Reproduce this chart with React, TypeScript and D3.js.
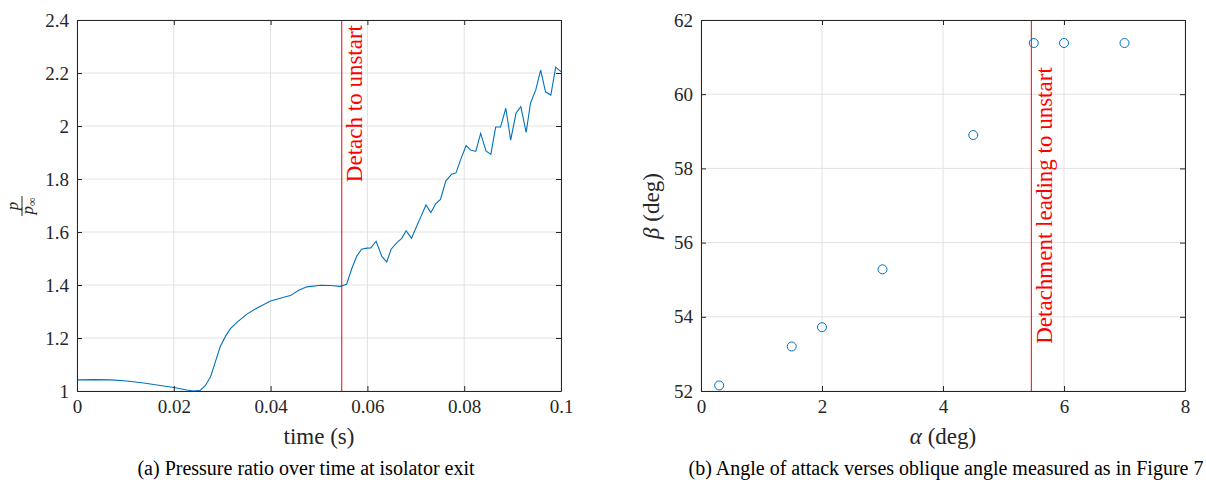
import React, { useRef, useEffect } from 'react';
import * as d3 from 'd3';

// (a) pressure ratio at isolator exit
const timeS = [
  0, 0.0035, 0.0069, 0.0103, 0.0138, 0.0172, 0.02, 0.0227, 0.0241, 0.0255,
  0.0265, 0.0276, 0.0286, 0.0296, 0.0307, 0.0317, 0.0331, 0.0351, 0.0372, 0.04,
  0.0427, 0.0441, 0.0458, 0.0475, 0.0503, 0.0524, 0.0544, 0.0557, 0.0568, 0.0578,
  0.0588, 0.0599, 0.0607, 0.0618, 0.063, 0.064, 0.0649, 0.0661, 0.0671, 0.068,
  0.0691, 0.07, 0.0711, 0.0721, 0.0731, 0.0741, 0.0751, 0.0762, 0.0774, 0.0783,
  0.0793, 0.0804, 0.0813, 0.0824, 0.0834, 0.0845, 0.0855, 0.0865, 0.0875, 0.0886,
  0.0896, 0.0907, 0.0917, 0.0928, 0.0937, 0.0948, 0.0958, 0.0968, 0.0979, 0.0989,
  0.1,
];
const pressureRatio = [
  1.042, 1.043, 1.042, 1.038, 1.03, 1.021, 1.013, 1.004, 1.0, 1.003,
  1.02, 1.054, 1.111, 1.168, 1.207, 1.235, 1.26, 1.29, 1.313, 1.34,
  1.354, 1.36, 1.38, 1.393, 1.399, 1.398, 1.395, 1.403, 1.463, 1.509,
  1.535, 1.539, 1.54, 1.565, 1.507, 1.487, 1.535, 1.56, 1.576, 1.605,
  1.576, 1.614, 1.66, 1.702, 1.673, 1.706, 1.723, 1.792, 1.818, 1.823,
  1.875, 1.926, 1.909, 1.904, 1.972, 1.906, 1.893, 1.996, 1.996, 2.067,
  1.947, 2.048, 2.073, 1.976, 2.086, 2.137, 2.211, 2.129, 2.117, 2.222,
  2.205,
];
const timeTicks = [0, 0.02, 0.04, 0.06, 0.08, 0.1];
const ratioTicks = [1, 1.2, 1.4, 1.6, 1.8, 2, 2.2, 2.4];
const detachTime = 0.0547;

// (b) angle of attack vs oblique angle
const alphaDeg = [0.3, 1.5, 2, 3, 4.5, 5.5, 6, 7];
const betaDeg = [52.15, 53.2, 53.72, 55.28, 58.9, 61.38, 61.38, 61.38];
const alphaTicks = [0, 2, 4, 6, 8];
const betaTicks = [52, 54, 56, 58, 60, 62];
const detachAlpha = 5.46;

const FONT = "'Liberation Serif', 'DejaVu Serif', serif";
const AXIS = '#262626';
const GRID = '#e2e2e2';
const BLUE = '#0072BD';

const fmt = (d) => String(+(+d).toFixed(3));

const App = () => {
  const ref = useRef();

  useEffect(() => {
    const svg = d3.select(ref.current);
    svg.selectAll('*').remove();

    const top = 20;
    const W = 484;
    const H = 371;

    const panel = (left, xDomain, yDomain, xTicks, yTicks) => {
      const g = svg.append('g').attr('transform', `translate(${left},${top})`);
      const x = d3.scaleLinear().domain(xDomain).range([0, W]);
      const y = d3.scaleLinear().domain(yDomain).range([H, 0]);

      // grid
      g.append('g').selectAll('line').data(xTicks).join('line')
        .attr('x1', d => x(d)).attr('x2', d => x(d))
        .attr('y1', 0).attr('y2', H)
        .attr('stroke', GRID).attr('stroke-width', 1);
      g.append('g').selectAll('line').data(yTicks).join('line')
        .attr('x1', 0).attr('x2', W)
        .attr('y1', d => y(d)).attr('y2', d => y(d))
        .attr('stroke', GRID).attr('stroke-width', 1);
      return { g, x, y };
    };

    const axes = ({ g, x, y }, xTicks, yTicks) => {
      const styleAxis = (sel) => {
        sel.attr('font-family', null).attr('font-size', null);
        sel.select('.domain').attr('stroke', AXIS).attr('stroke-width', 1);
        sel.selectAll('.tick line').attr('stroke', AXIS).attr('stroke-width', 1);
        sel.selectAll('text')
          .attr('fill', AXIS)
          .attr('font-family', FONT)
          .attr('font-size', 19);
      };
      g.append('g').attr('transform', `translate(0,${H})`)
        .call(d3.axisBottom(x).tickValues(xTicks).tickSize(-5).tickSizeOuter(0).tickPadding(9).tickFormat(fmt))
        .call(styleAxis);
      g.append('g')
        .call(d3.axisTop(x).tickValues(xTicks).tickSize(-5).tickSizeOuter(0).tickFormat(() => ''))
        .call(styleAxis);
      g.append('g')
        .call(d3.axisLeft(y).tickValues(yTicks).tickSize(-5).tickSizeOuter(0).tickPadding(8).tickFormat(fmt))
        .call(styleAxis);
      g.append('g').attr('transform', `translate(${W},0)`)
        .call(d3.axisRight(y).tickValues(yTicks).tickSize(-5).tickSizeOuter(0).tickFormat(() => ''))
        .call(styleAxis);
    };

    const label = (sel, size) => sel
      .attr('fill', AXIS)
      .attr('font-family', FONT)
      .attr('font-size', size);

    // ---- panel (a) ----
    const a = panel(77, [0, 0.1], [1, 2.4], timeTicks, ratioTicks);
    const line = d3.line()
      .x((d, i) => a.x(timeS[i]))
      .y(d => a.y(d));
    a.g.append('path')
      .datum(pressureRatio)
      .attr('fill', 'none')
      .attr('stroke', BLUE)
      .attr('stroke-width', 1.1)
      .attr('d', line);
    a.g.append('line')
      .attr('x1', a.x(detachTime)).attr('x2', a.x(detachTime))
      .attr('y1', 0).attr('y2', H)
      .attr('stroke', '#ff0000').attr('stroke-width', 1);
    a.g.append('text')
      .attr('transform', `translate(${a.x(detachTime) + 20.5},5) rotate(-90)`)
      .attr('text-anchor', 'end')
      .call(label, 23)
      .attr('fill', '#ff0000')
      .text('Detach to unstart');
    axes(a, timeTicks, ratioTicks);

    // axis titles (a)
    svg.append('text')
      .attr('x', 77 + W / 2).attr('y', 444)
      .attr('text-anchor', 'middle')
      .call(label, 23)
      .text('time (s)');
    const frac = svg.append('g').attr('transform', 'translate(22,206) rotate(-90)');
    frac.append('text')
      .attr('x', 0).attr('y', -4)
      .attr('text-anchor', 'middle')
      .call(label, 17)
      .attr('font-style', 'italic')
      .text('p');
    frac.append('line')
      .attr('x1', -10).attr('x2', 10).attr('y1', 0).attr('y2', 0)
      .attr('stroke', AXIS).attr('stroke-width', 1);
    const den = frac.append('text')
      .attr('x', 0).attr('y', 11)
      .attr('text-anchor', 'middle')
      .call(label, 17);
    den.append('tspan').attr('font-style', 'italic').text('p');
    den.append('tspan').attr('dy', 3).attr('font-size', 12).text('∞');

    // ---- panel (b) ----
    const b = panel(701, [0, 8], [52, 62], alphaTicks, betaTicks);
    b.g.append('line')
      .attr('x1', b.x(detachAlpha)).attr('x2', b.x(detachAlpha))
      .attr('y1', 0).attr('y2', H)
      .attr('stroke', '#ff0000').attr('stroke-width', 1);
    b.g.append('text')
      .attr('transform', `translate(${b.x(detachAlpha) + 20.5},${H / 2}) rotate(-90)`)
      .attr('text-anchor', 'middle')
      .call(label, 23)
      .attr('fill', '#ff0000')
      .text('Detachment leading to unstart');
    b.g.append('g').selectAll('circle')
      .data(betaDeg)
      .join('circle')
      .attr('cx', (d, i) => b.x(alphaDeg[i]))
      .attr('cy', d => b.y(d))
      .attr('r', 4.5)
      .attr('fill', 'none')
      .attr('stroke', BLUE)
      .attr('stroke-width', 1);
    axes(b, alphaTicks, betaTicks);

    const xt = svg.append('text')
      .attr('x', 701 + W / 2).attr('y', 444)
      .attr('text-anchor', 'middle')
      .call(label, 23);
    xt.append('tspan').attr('font-style', 'italic').text('α');
    xt.append('tspan').text(' (deg)');
    const yt = svg.append('text')
      .attr('transform', 'translate(659,206) rotate(-90)')
      .attr('text-anchor', 'middle')
      .call(label, 23);
    yt.append('tspan').attr('font-style', 'italic').text('β');
    yt.append('tspan').text(' (deg)');

    // captions
    svg.append('text')
      .attr('x', 306).attr('y', 475)
      .attr('text-anchor', 'middle')
      .call(label, 20)
      .attr('fill', '#000')
      .text('(a) Pressure ratio over time at isolator exit');
    svg.append('text')
      .attr('x', 946).attr('y', 475)
      .attr('text-anchor', 'middle')
      .call(label, 20)
      .attr('fill', '#000')
      .text('(b) Angle of attack verses oblique angle measured as in Figure 7');
  }, []);

  return (
    <svg
      ref={ref}
      width={1206}
      height={487}
      style={{ position: 'absolute', left: 0, top: 0, background: '#fff' }}
    />
  );
};

export default App;
